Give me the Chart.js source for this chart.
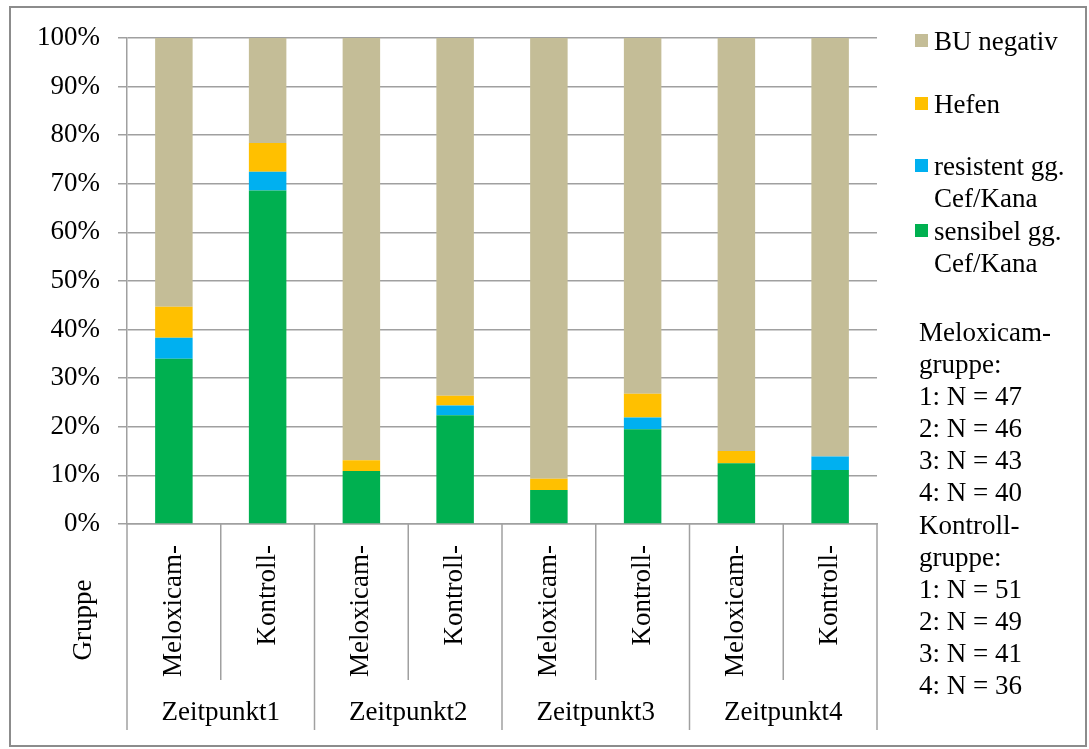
<!DOCTYPE html>
<html>
<head>
<meta charset="utf-8">
<script src="https://cdn.jsdelivr.net/npm/chart.js@4"></script>
<style>
  body { margin: 0; background: #fff; }
  #wrap { position: relative; width: 1089px; height: 749px; font-family: 'Liberation Serif', 'Times New Roman', serif; color: #000; }
  #rahmen { position: absolute; left: 9px; top: 6px; width: 1074px; height: 737px; border: 2px solid #8c8c8c; }
  canvas { position: absolute; left: 0; top: 0; }
  .eintrag { position: absolute; left: 915px; font-size: 27px; line-height: 32.3px; white-space: pre-line; }
  .eintrag span.box { position: absolute; left: 0; top: 9px; width: 13px; height: 13px; }
  .eintrag span.txt { display: block; margin-left: 19px; }
  #notiz { position: absolute; left: 919px; top: 316px; font-size: 27px; line-height: 32.1px; white-space: pre-line; }
</style>
</head>
<body>
<div id="wrap">
  <div id="rahmen"></div>
  <canvas id="anteile" width="1089" height="749"></canvas>
  <div id="legende"></div>
  <div id="notiz"></div>
</div>
<script>
// Daten (Anteile in %)
const kategorien = ['Meloxicam-', 'Kontroll-', 'Meloxicam-', 'Kontroll-', 'Meloxicam-', 'Kontroll-', 'Meloxicam-', 'Kontroll-'];
const zeitpunkte = ['Zeitpunkt1', 'Zeitpunkt2', 'Zeitpunkt3', 'Zeitpunkt4'];
const sensibel   = [34.0, 68.6, 10.9, 22.4, 7.0, 19.5, 12.5, 11.1];
const resistent  = [4.3, 3.9, 0, 2.0, 0, 2.4, 0, 2.8];
const hefen      = [6.4, 5.9, 2.2, 2.0, 2.3, 4.9, 2.5, 0];
const buNegativ  = [55.3, 21.6, 86.9, 73.6, 90.7, 73.2, 85.0, 86.1];
const nMeloxicam = [47, 46, 43, 40];
const nKontroll  = [51, 49, 41, 36];

Chart.defaults.font.family = "'Liberation Serif', 'Times New Roman', serif";
Chart.defaults.font.size = 27;
Chart.defaults.color = '#000';

const gitterFarbe = '#a0a0a0';

// Trennlinien, Zeitpunkte und "Gruppe" unter der x-Achse
const gruppenPlugin = {
    id: 'gruppen',
    afterDraw(chart) {
        const ctx = chart.ctx;
        const x = chart.scales.x;
        const unten = chart.chartArea.bottom;
        const halb = (x.getPixelForValue(1) - x.getPixelForValue(0)) / 2;
        ctx.save();
        ctx.strokeStyle = gitterFarbe;
        ctx.lineWidth = 1.5;
        for (let i = 0; i <= kategorien.length; i++) {
            const px = i < kategorien.length ? x.getPixelForValue(i) - halb : x.getPixelForValue(i - 1) + halb;
            ctx.beginPath();
            ctx.moveTo(px, unten);
            ctx.lineTo(px, i % 2 === 0 ? 730 : 680);
            ctx.stroke();
        }
        ctx.fillStyle = '#000';
        ctx.font = "27px 'Liberation Serif', 'Times New Roman', serif";
        ctx.textAlign = 'center';
        ctx.textBaseline = 'alphabetic';
        zeitpunkte.forEach(function(z, g) {
            const mitte = (x.getPixelForValue(2 * g) + x.getPixelForValue(2 * g + 1)) / 2;
            ctx.fillText(z, mitte, 720);
        });
        ctx.translate(91, 620);
        ctx.rotate(-Math.PI / 2);
        ctx.fillText('Gruppe', 0, 0);
        ctx.restore();
    }
};

const ctxAnteile = document.getElementById('anteile').getContext('2d');
const diagramm = new Chart(ctxAnteile, {
    type: 'bar',
    data: {
        labels: kategorien,
        datasets: [
            { label: 'sensibel gg.\nCef/Kana', data: sensibel, backgroundColor: '#00b050' },
            { label: 'resistent gg.\nCef/Kana', data: resistent, backgroundColor: '#00b0f0' },
            { label: 'Hefen', data: hefen, backgroundColor: '#ffc000' },
            { label: 'BU negativ', data: buNegativ, backgroundColor: '#c4bd97' }
        ]
    },
    options: {
        responsive: false,
        animation: false,
        layout: { padding: { top: 38, right: 212, left: 0, bottom: 0 } },
        datasets: { bar: { categoryPercentage: 1, barPercentage: 0.4 } },
        plugins: {
            legend: { display: false },
            tooltip: { enabled: false }
        },
        scales: {
            x: {
                stacked: true,
                afterFit: function(s) { s.height = 225; },
                grid: { display: true, drawOnChartArea: false, drawTicks: false },
                border: { display: true, color: gitterFarbe, width: 1.5 },
                ticks: { autoSkip: false, minRotation: 90, maxRotation: 90, padding: 21 }
            },
            y: {
                stacked: true,
                min: 0,
                max: 100,
                afterFit: function(s) { s.width = 127; },
                grid: { color: gitterFarbe, lineWidth: 1.5, tickLength: 9 },
                border: { display: true, color: gitterFarbe, width: 1.5 },
                ticks: {
                    stepSize: 10,
                    padding: 18,
                    callback: function(value) { return value + '%'; }
                }
            }
        }
    },
    plugins: [gruppenPlugin]
});

// Legende rechts (oberste Serie zuerst)
const legendeTops = [25, 88, 150, 215];
const legende = document.getElementById('legende');
diagramm.data.datasets.slice().reverse().forEach(function(ds, i) {
    const div = document.createElement('div');
    div.className = 'eintrag';
    div.style.top = legendeTops[i] + 'px';
    div.innerHTML = '<span class="box" style="background:' + ds.backgroundColor + '"></span>' +
        '<span class="txt">' + ds.label + '</span>';
    legende.appendChild(div);
});

let notiz = 'Meloxicam-\ngruppe:\n';
nMeloxicam.forEach(function(n, i) { notiz += (i + 1) + ': N = ' + n + '\n'; });
notiz += 'Kontroll-\ngruppe:\n';
nKontroll.forEach(function(n, i) { notiz += (i + 1) + ': N = ' + n + (i < nKontroll.length - 1 ? '\n' : ''); });
document.getElementById('notiz').textContent = notiz;
</script>
</body>
</html>
